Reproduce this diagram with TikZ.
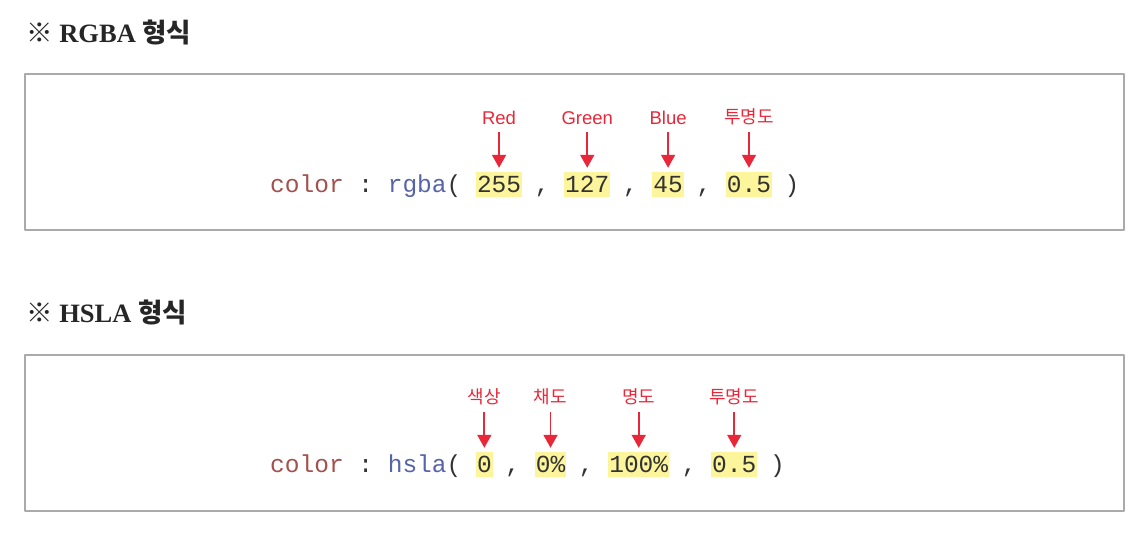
\documentclass[tikz,border=0pt]{standalone}
\usepackage{fontspec}
\setmainfont{Liberation Serif}
\setsansfont{Liberation Sans}
\newfontfamily\codefont{Liberation Mono}
\newfontfamily\krfont{Noto Sans CJK KR}
\usetikzlibrary{arrows.meta}
\definecolor{codered}{HTML}{A4504C}
\definecolor{codeblue}{HTML}{5765A8}
\definecolor{codegray}{HTML}{333333}
\definecolor{hilite}{HTML}{FDF59B}
\definecolor{lblred}{HTML}{E8283A}
\definecolor{boxgray}{HTML}{AAAAAA}
\tikzset{
  code/.style={anchor=base west, inner sep=0pt, text=codegray,
    font=\codefont\fontsize{24.5}{29}\selectfont},
  val/.style={code, fill=hilite, inner xsep=1pt, text height=20pt, text depth=4.5pt},
  lbl/.style={text=lblred, inner sep=1pt, font=\sffamily\fontsize{18.5}{22}\selectfont},
  lblkr/.style={lbl, font=\krfont\fontsize{18}{22}\selectfont},
  arr/.style={draw=lblred, line width=1.8pt, -{Triangle[width=14pt,length=13pt]},
    shorten <=6pt, shorten >=4pt},
  frame/.style={draw=boxgray, line width=1.2pt},
  heading/.style={anchor=west, inner sep=0pt, text=black!85,
    font=\bfseries\fontsize{26.5}{31}\selectfont}
}
\begin{document}
\begin{tikzpicture}[x=1pt, y=-1pt, line join=round]
  \fill[white] (0,0) rectangle (1148,552);
  \useasboundingbox (0,0) rectangle (1148,552);

  % RGBA
  \node[heading] (t1) at (26,32) {{\krfont ※} RGBA {\krfont 형식}};
  \draw[frame] (25,74) rectangle (1124,230);
  \node[code] (c1) at (270,192) {\color{codered}color};
  \node[code] (s1) at (358.2,192) {:};
  \node[code] (f1) at (387.6,192) {\color{codeblue}rgba\color{codegray}(};
  \node[val] (r) at (475.8,192) {255};
  \node[code] (k1) at (534.6,192) {,};
  \node[val] (g) at (564,192) {127};
  \node[code] (k2) at (622.8,192) {,};
  \node[val] (b) at (652.2,192) {45};
  \node[code] (k3) at (696.3,192) {,};
  \node[val] (a1) at (725.7,192) {0.5};
  \node[code] (e1) at (784.5,192) {)};
  \node[lbl] (lr) at (r |- 0,118) {Red};
  \node[lbl] (lg) at (g |- 0,118) {Green};
  \node[lbl] (lb) at (b |- 0,118) {Blue};
  \node[lblkr] (la1) at (a1 |- 0,117) {투명도};
  \draw[arr] (lr) -- (r);
  \draw[arr] (lg) -- (g);
  \draw[arr] (lb) -- (b);
  \draw[arr] (la1) -- (a1);

  % HSLA
  \node[heading] (t2) at (26,312) {{\krfont ※} HSLA {\krfont 형식}};
  \draw[frame] (25,355) rectangle (1124,511);
  \node[code] (c2) at (270,472) {\color{codered}color};
  \node[code] (s2) at (358.2,472) {:};
  \node[code] (f2) at (387.6,472) {\color{codeblue}hsla\color{codegray}(};
  \node[val] (h) at (475.8,472) {0};
  \node[code] (m1) at (505.2,472) {,};
  \node[val] (sa) at (534.6,472) {0\%};
  \node[code] (m2) at (578.7,472) {,};
  \node[val] (li) at (608.1,472) {100\%};
  \node[code] (m3) at (681.6,472) {,};
  \node[val] (a2) at (711,472) {0.5};
  \node[code] (e2) at (769.8,472) {)};
  \node[lblkr] (lh) at (h |- 0,397) {색상};
  \node[lblkr] (ls) at (sa |- 0,397) {채도};
  \node[lblkr] (ll) at (li |- 0,397) {명도};
  \node[lblkr] (la2) at (a2 |- 0,397) {투명도};
  \draw[arr] (lh) -- (h);
  \draw[arr] (ls) -- (sa);
  \draw[arr] (ll) -- (li);
  \draw[arr] (la2) -- (a2);
\end{tikzpicture}
\end{document}
